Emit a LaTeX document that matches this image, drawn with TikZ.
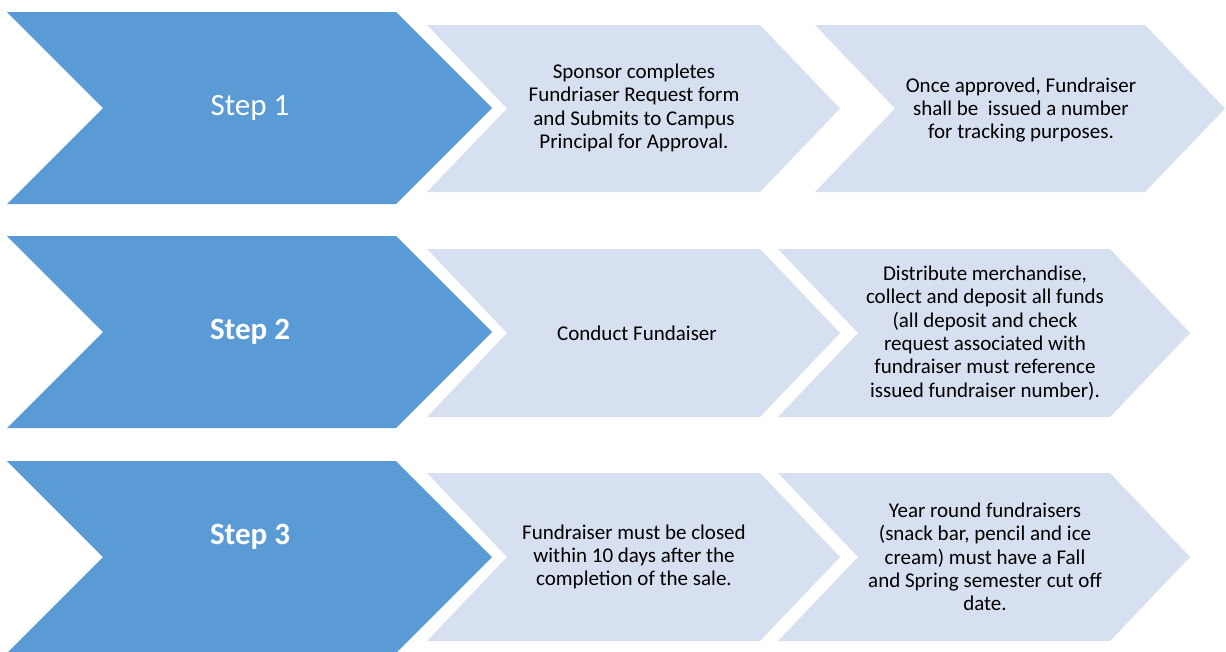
\documentclass[tikz,border=0pt]{standalone}
\usepackage{fontspec}
\setmainfont{Carlito}
\definecolor{stepblue}{HTML}{5B9BD5}
\definecolor{boxblue}{HTML}{D6E0F0}
% chevron: style, left x, top-right x, top y, bottom y, depth
\newcommand{\chev}[6]{%
	\fill[#1] (#2,#4) -- (#3,#4) -- ({#3+#6},{(#4+#5)/2}) -- (#3,#5) -- (#2,#5) -- ({#2+#6},{(#4+#5)/2}) -- cycle;}
\tikzset{
	steptext/.style={text=white,font=\fontsize{31}{37}\selectfont},
	boxtext/.style={text=black,align=center,font=\fontsize{21}{23.3}\selectfont}
}
\begin{document}
\begin{tikzpicture}[x=1pt,y=-1pt]
		\useasboundingbox (0,0) rectangle (1226,651);
		% hàng 1
		\chev{stepblue}{7}{396}{12}{204}{96}
		\chev{boxblue}{427}{760}{25}{192}{80}
		\chev{boxblue}{815}{1145}{25}{192}{80}
		\node[steptext] (s1) at (250,108) {Step 1};
		\node[boxtext] (a1) at (634,108) {Sponsor completes\\Fundriaser Request form\\and Submits to Campus\\Principal for Approval.};
		\node[boxtext] (b1) at (1021,110) {Once approved, Fundraiser\\shall be\ \ issued a number\\for tracking purposes.};
		% hàng 2
		\chev{stepblue}{7}{396}{236}{428}{96}
		\chev{boxblue}{427}{760}{249}{417}{80}
		\chev{boxblue}{778}{1110}{249}{417}{80}
		\node[steptext,font=\bfseries\fontsize{31}{37}\selectfont] (s2) at (250,332) {Step 2};
		\node[boxtext] (a2) at (637,333) {Conduct Fundaiser};
		\node[boxtext] (b2) at (985,333) {Distribute merchandise,\\collect and deposit all funds\\(all deposit and check\\request associated with\\fundraiser must reference\\issued fundraiser number).};
		% hàng 3
		\chev{stepblue}{7}{396}{461}{653}{96}
		\chev{boxblue}{427}{760}{473}{641}{80}
		\chev{boxblue}{778}{1110}{473}{641}{80}
		\node[steptext,font=\bfseries\fontsize{31}{37}\selectfont] (s3) at (250,537) {Step 3};
		\node[boxtext] (a3) at (634,557) {Fundraiser must be closed\\within 10 days after the\\completion of the sale.};
		\node[boxtext] (b3) at (985,557) {Year round fundraisers\\(snack bar, pencil and ice\\cream) must have a Fall\\and Spring semester cut off\\date.};
\end{tikzpicture}
\end{document}
